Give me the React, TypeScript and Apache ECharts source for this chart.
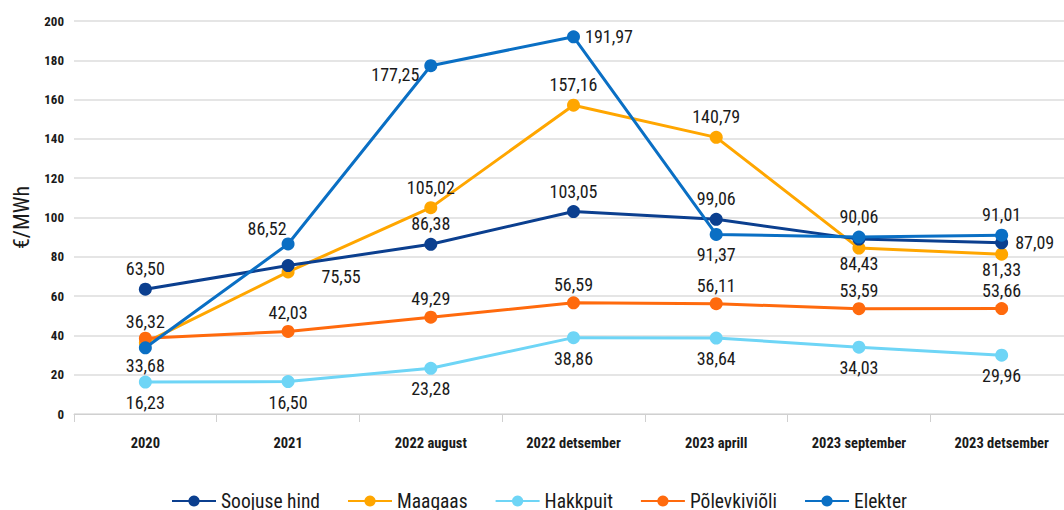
import React, { useEffect, useRef } from "react";
import * as echarts from "echarts";

const categories = ["2020", "2021", "2022 august", "2022 detsember", "2023 aprill", "2023 september", "2023 detsember"];
const soojuseHind = [63.5, 75.55, 86.38, 103.05, 99.06, 89.0, 87.09];
const maagaas = [36.32, 72.3, 105.02, 157.16, 140.79, 84.43, 81.33];
const hakkpuit = [16.23, 16.5, 23.28, 38.86, 38.64, 34.03, 29.96];
const polevkivioli = [38.6, 42.03, 49.29, 56.59, 56.11, 53.59, 53.66];
const elekter = [33.68, 86.52, 177.25, 191.97, 91.37, 90.06, 91.01];
const yTicks = [0, 20, 40, 60, 80, 100, 120, 140, 160, 180, 200];

type LP = { pos: string; show?: boolean; offset?: number[] };
const labelsSoojuse: LP[] = [
  { pos: "top" }, { pos: "right", offset: [22, 11] }, { pos: "top" }, { pos: "top" }, { pos: "top" }, { pos: "top", show: false }, { pos: "right", offset: [2, 0] },
];
const labelsMaagaas: LP[] = [
  { pos: "top", offset: [0, -1] }, { pos: "top", show: false }, { pos: "top" }, { pos: "top" }, { pos: "top" }, { pos: "bottom", offset: [0, -5] }, { pos: "bottom", offset: [0, -5] },
];
const labelsHakk: LP[] = [
  { pos: "bottom" }, { pos: "bottom" }, { pos: "bottom" }, { pos: "bottom" }, { pos: "bottom" }, { pos: "bottom" }, { pos: "bottom" },
];
const labelsPolev: LP[] = [
  { pos: "top", show: false }, { pos: "top", offset: [0, 2] }, { pos: "top", offset: [0, 2] }, { pos: "top", offset: [0, 2] }, { pos: "top", offset: [0, 2] }, { pos: "top", offset: [0, 2] }, { pos: "top", offset: [0, 2] },
];
const labelsElekter: LP[] = [
  { pos: "bottom", offset: [0, -3] }, { pos: "top", offset: [-21, 5] }, { pos: "left", offset: [0, 9] }, { pos: "right" }, { pos: "bottom" }, { pos: "top" }, { pos: "top" },
];

const fmt = (v: number) => v.toFixed(2).replace(".", ",");
const FONT = "'Roboto Condensed', 'Liberation Sans Narrow', Roboto, sans-serif";

function mk(name: string, values: number[], labels: LP[], color: string, z: number) {
  return {
    name,
    type: "line",
    z,
    symbol: "circle",
    symbolSize: 13,
    lineStyle: { width: 3, color },
    itemStyle: { color },
    data: values.map((v, i) => ({
      value: v,
      label: {
        show: labels[i].show !== false,
        position: labels[i].pos,
        offset: labels[i].offset || [0, 0],
      },
    })),
    label: {
      show: true,
      distance: 5,
      color: "#1a1a1a",
      fontSize: 18,
      fontFamily: FONT,
      formatter: (p: any) => fmt(p.value),
    },
  };
}

export default function App() {
  const ref = useRef<HTMLDivElement>(null);
  useEffect(() => {
    if (!ref.current) return;
    const chart = echarts.init(ref.current, undefined, { renderer: "svg" });
    chart.setOption({
      animation: false,
      backgroundColor: "#ffffff",
      grid: { left: 74, width: 999, top: 21, bottom: 96, containLabel: false, outerBoundsMode: "none" },
      legend: {
        bottom: -6,
        left: 166,
        itemWidth: 44,
        itemHeight: 14,
        itemGap: 27,
        textStyle: { fontSize: 19.5, fontFamily: FONT, color: "#1a1a1a" },
        data: ["Soojuse hind", "Maagaas", "Hakkpuit", "Põlevkiviõli", "Elekter"],
      },
      xAxis: {
        type: "category",
        data: categories,
        boundaryGap: true,
        axisLine: { lineStyle: { color: "#d0d0d0" } },
        axisTick: { show: true, length: 8, lineStyle: { color: "#d0d0d0" } },
        axisLabel: { fontWeight: "bold", fontSize: 14.5, fontFamily: FONT, color: "#1a1a1a", margin: 22, interval: 0 },
      },
      yAxis: {
        type: "value",
        min: 0,
        max: 200,
        interval: 20,
        name: "€/MWh",
        nameLocation: "middle",
        nameGap: 42,
        nameTextStyle: { fontSize: 22, fontFamily: FONT, color: "#1a1a1a" },
        axisLine: { show: false },
        axisTick: { show: false },
        splitLine: { lineStyle: { color: "#dcdcdc", width: 1.5 } },
        axisLabel: {
          fontWeight: "bold",
          fontSize: 13,
          fontFamily: FONT,
          color: "#1a1a1a",
          margin: 10,
          formatter: (v: number) => (yTicks.includes(v) ? String(v) : ""),
        },
      },
      series: [
        mk("Soojuse hind", soojuseHind, labelsSoojuse, "#0b3f8f", 5),
        mk("Maagaas", maagaas, labelsMaagaas, "#ffa600", 3),
        mk("Hakkpuit", hakkpuit, labelsHakk, "#6ed5f6", 2),
        mk("Põlevkiviõli", polevkivioli, labelsPolev, "#ff6a0d", 4),
        mk("Elekter", elekter, labelsElekter, "#0a6fc4", 6),
      ],
    });
    return () => chart.dispose();
  }, []);
  return (
    <div
      ref={ref}
      style={{ position: "absolute", left: 0, top: 0, width: 1064, height: 510, background: "#fff" }}
    />
  );
}
